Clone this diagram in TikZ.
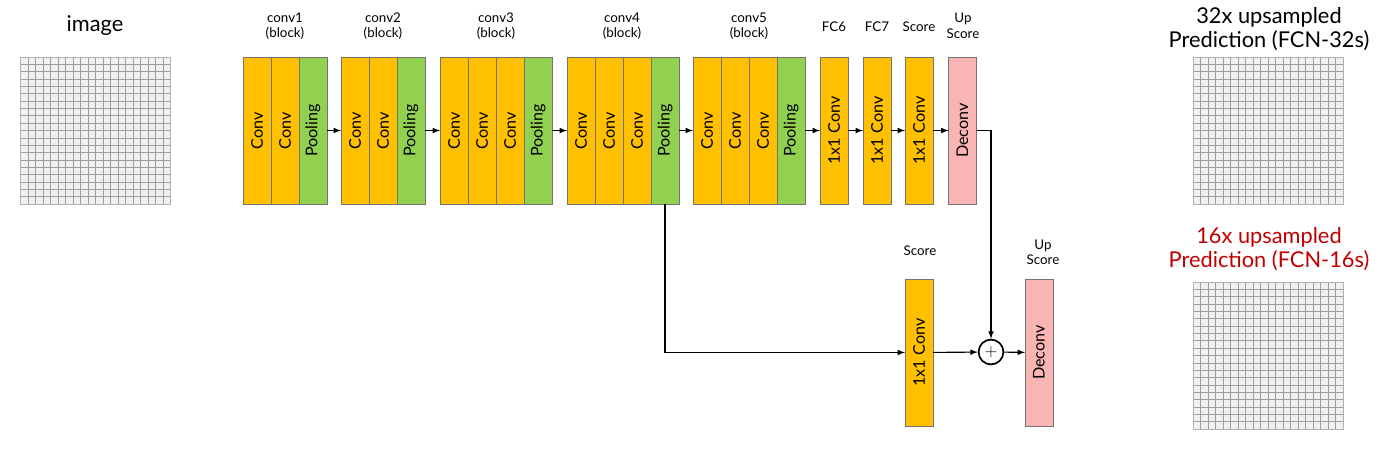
\documentclass[tikz,border=0pt]{standalone}
\usepackage{fontspec}
\setmainfont{Lato}
\usetikzlibrary{positioning,calc}
\definecolor{convyellow}{HTML}{FFC000}
\definecolor{poolgreen}{HTML}{92D050}
\definecolor{deconvpink}{HTML}{F9B4B4}
\definecolor{fcnred}{HTML}{C00000}
\newcommand{\uptext}[1]{\rotatebox{90}{#1}}
\tikzset{>=latex}
\tikzset{
  layer/.style = {draw=black!55, line width=0.5pt, inner sep=0pt, outer sep=0pt,
    minimum width=0.7cm, minimum height=3.675cm,
    font=\fontsize{11.5}{12}\selectfont},
  convl/.style = {layer, fill=convyellow},
  pooll/.style = {layer, fill=poolgreen},
  deconvl/.style = {layer, fill=deconvpink},
  toplbl/.style = {align=center, font=\fontsize{9.5}{11}\selectfont},
  biglbl/.style = {align=center, font=\fontsize{15.5}{17.5}\selectfont},
  link/.style = {->, line width=0.8pt},
  gridpic/.style = {draw=black!30, fill=black!6, inner sep=0pt,
    minimum width=3.75cm, minimum height=3.675cm,
    path picture={
      \foreach \k in {1,...,19}{
        \draw[black!38, line width=0.5pt]
          ($(path picture bounding box.south west)!\k/20!(path picture bounding box.south east)$) --
          ($(path picture bounding box.north west)!\k/20!(path picture bounding box.north east)$);
        \draw[black!38, line width=0.5pt]
          ($(path picture bounding box.south west)!\k/20!(path picture bounding box.north west)$) --
          ($(path picture bounding box.south east)!\k/20!(path picture bounding box.north east)$);
      }}},
  plusnode/.style = {circle, draw, line width=1.2pt, minimum size=0.62cm, inner sep=0pt,
    font=\fontsize{13}{13}\selectfont}
}

\begin{document}
\begin{tikzpicture}[x=0.025cm,y=-0.025cm]
  \useasboundingbox (0,0) rectangle (1390,461);

  % input and outputs
  \node[biglbl] (limg) at (95,26) {image};
  \node[gridpic] (img) at (95.5,130.5) {};
  \node[biglbl] (l32) at (1269,29) {32x upsampled\\Prediction (FCN-32s)};
  \node[gridpic] (out32) at (1268,130.5) {};
  \node[biglbl, text=fcnred] (l16) at (1269,249) {16x upsampled\\Prediction (FCN-16s)};
  \node[gridpic] (out16) at (1268,355.5) {};

  % conv blocks
  \node[convl] (c11) at (257,130.5) {\uptext{Conv}};
  \node[convl, right=0pt of c11] (c12) {\uptext{Conv}};
  \node[pooll, right=0pt of c12] (p1) {\uptext{Pooling}};

  \node[convl] (c21) at (355,130.5) {\uptext{Conv}};
  \node[convl, right=0pt of c21] (c22) {\uptext{Conv}};
  \node[pooll, right=0pt of c22] (p2) {\uptext{Pooling}};

  \node[convl] (c31) at (454,130.5) {\uptext{Conv}};
  \node[convl, right=0pt of c31] (c32) {\uptext{Conv}};
  \node[convl, right=0pt of c32] (c33) {\uptext{Conv}};
  \node[pooll, right=0pt of c33] (p3) {\uptext{Pooling}};

  \node[convl] (c41) at (581,130.5) {\uptext{Conv}};
  \node[convl, right=0pt of c41] (c42) {\uptext{Conv}};
  \node[convl, right=0pt of c42] (c43) {\uptext{Conv}};
  \node[pooll, right=0pt of c43] (p4) {\uptext{Pooling}};

  \node[convl] (c51) at (707,130.5) {\uptext{Conv}};
  \node[convl, right=0pt of c51] (c52) {\uptext{Conv}};
  \node[convl, right=0pt of c52] (c53) {\uptext{Conv}};
  \node[pooll, right=0pt of c53] (p5) {\uptext{Pooling}};

  \node[convl] (fc6) at (834,130.5) {\uptext{1x1 Conv}};
  \node[convl] (fc7) at (877,130.5) {\uptext{1x1 Conv}};
  \node[convl] (score) at (919,130.5) {\uptext{1x1 Conv}};
  \node[deconvl] (up) at (962.5,130.5) {\uptext{Deconv}};

  % top labels
  \node[toplbl] (l1) at (285,26) {conv1\\(block)};
  \node[toplbl] (l2) at (383,26) {conv2\\(block)};
  \node[toplbl] (l3) at (496,26) {conv3\\(block)};
  \node[toplbl] (l4) at (622,26) {conv4\\(block)};
  \node[toplbl] (l5) at (749,26) {conv5\\(block)};
  \node[toplbl] (l6) at (834,27) {FC6};
  \node[toplbl] (l7) at (877,27) {FC7};
  \node[toplbl] (l8) at (919,27) {Score};
  \node[toplbl] (l9) at (963,26) {Up\\Score};

  % skip branch
  \node[convl] (score2) at (919,352.5) {\uptext{1x1 Conv}};
  \node[plusnode] (plus) at (991,352) {$+$};
  \node[deconvl] (up2) at (1039,352.5) {\uptext{Deconv}};
  \node[toplbl] (l10) at (920,251) {Score};
  \node[toplbl] (l11) at (1043,252) {Up\\Score};

  \draw[link] (p1) -- (c21);
  \draw[link] (p2) -- (c31);
  \draw[link] (p3) -- (c41);
  \draw[link] (p4) -- (c51);
  \draw[link] (p5) -- (fc6);
  \draw[link] (fc6) -- (fc7);
  \draw[link] (fc7) -- (score);
  \draw[link] (score) -- (up);
  \draw[link] (up.east) -| (plus.north);
  \draw[link] (p4.south) |- (score2.west);
  \draw[link] (score2) -- (plus);
  \draw[link] (plus) -- (up2);
\end{tikzpicture}
\end{document}
